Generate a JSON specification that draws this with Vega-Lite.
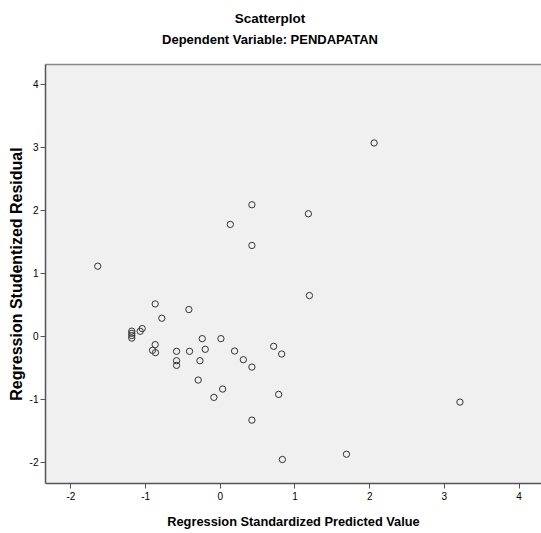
{
  "$schema": "https://vega.github.io/schema/vega-lite/v6.json",
  "autosize": {"type": "none"},
  "padding": {"left": 45, "top": 64, "right": 0, "bottom": 50},
  "width": 496,
  "height": 419,
  "background": "white",
  "title": {
    "text": "Scatterplot",
    "subtitle": "Dependent Variable: PENDAPATAN",
    "anchor": "middle",
    "frame": "group",
    "dx": -23,
    "font": "Liberation Sans",
    "fontSize": 13.5,
    "fontWeight": "bold",
    "color": "#000000",
    "subtitleFont": "Liberation Sans",
    "subtitleFontSize": 13,
    "subtitleFontWeight": "bold",
    "subtitleColor": "#000000",
    "subtitlePadding": 9,
    "offset": 17
  },
  "config": {
    "view": {"fill": "#F0F0F0", "stroke": null},
    "axis": {
      "labelFont": "Liberation Sans",
      "labelFontSize": 10,
      "labelColor": "#000000",
      "titleFont": "Liberation Sans",
      "titleFontWeight": "bold",
      "titleColor": "#000000",
      "domainColor": "#555555",
      "domainWidth": 1.5,
      "tickColor": "#555555",
      "tickSize": 5,
      "grid": false
    }
  },
  "data": {
    "values": [
      {"predicted": -1.634, "residual": 1.111},
      {"predicted": -0.865, "residual": 0.512},
      {"predicted": -0.414, "residual": 0.423},
      {"predicted": -0.776, "residual": 0.285},
      {"predicted": -1.178, "residual": 0.08},
      {"predicted": -1.178, "residual": 0.045},
      {"predicted": -1.178, "residual": 0.01},
      {"predicted": -1.178, "residual": -0.03},
      {"predicted": -1.066, "residual": 0.078},
      {"predicted": -1.039, "residual": 0.121},
      {"predicted": -0.865, "residual": -0.134},
      {"predicted": -0.901, "residual": -0.224},
      {"predicted": -0.861, "residual": -0.261},
      {"predicted": -0.579, "residual": -0.24},
      {"predicted": -0.579, "residual": -0.389},
      {"predicted": -0.579, "residual": -0.463},
      {"predicted": -0.405, "residual": -0.24},
      {"predicted": -0.235, "residual": -0.039},
      {"predicted": -0.195, "residual": -0.208},
      {"predicted": -0.266, "residual": -0.389},
      {"predicted": 0.015, "residual": -0.039},
      {"predicted": 0.198, "residual": -0.235},
      {"predicted": 0.315, "residual": -0.373},
      {"predicted": 0.43, "residual": -0.49},
      {"predicted": -0.289, "residual": -0.696},
      {"predicted": 0.038, "residual": -0.839},
      {"predicted": -0.079, "residual": -0.971},
      {"predicted": 0.43, "residual": -1.332},
      {"predicted": 0.721, "residual": -0.161},
      {"predicted": 0.828, "residual": -0.283},
      {"predicted": 0.788, "residual": -0.924},
      {"predicted": 2.066, "residual": 3.067},
      {"predicted": 0.43, "residual": 2.086},
      {"predicted": 0.141, "residual": 1.774},
      {"predicted": 1.186, "residual": 1.943},
      {"predicted": 0.43, "residual": 1.44},
      {"predicted": 1.2, "residual": 0.645},
      {"predicted": 3.215, "residual": -1.046},
      {"predicted": 0.838, "residual": -1.957},
      {"predicted": 1.696, "residual": -1.873}
    ]
  },
  "layer": [
    {
      "mark": {"type": "point", "shape": "circle", "filled": false, "size": 40, "stroke": "#333333", "strokeWidth": 1, "opacity": 1},
      "encoding": {
        "x": {
          "field": "predicted", "type": "quantitative",
          "scale": {"domain": [-2.34, 4.3], "nice": false, "zero": false},
          "axis": {"orient": "bottom", "values": [-2, -1, 0, 1, 2, 3, 4], "labelExpr": "'' + datum.value", "title": "Regression Standardized Predicted Value", "titleFontSize": 12.8, "titlePadding": 14, "labelPadding": 3}
        },
        "y": {
          "field": "residual", "type": "quantitative",
          "scale": {"domain": [-2.33, 4.32], "nice": false, "zero": false},
          "axis": {"orient": "left", "values": [-2, -1, 0, 1, 2, 3, 4], "labelExpr": "'' + datum.value", "title": "Regression Studentized Residual", "titleFontSize": 16, "titlePadding": 5, "labelPadding": 2}
        }
      }
    },
    {
      "mark": {"type": "point", "opacity": 0},
      "encoding": {
        "x": {
          "field": "predicted", "type": "quantitative",
          "axis": {"orient": "top", "labels": false, "ticks": false, "title": null, "domainColor": "#888888", "domainWidth": 1.5}
        },
        "y": {"field": "residual", "type": "quantitative"}
      }
    }
  ],
  "resolve": {"axis": {"x": "independent"}}
}
